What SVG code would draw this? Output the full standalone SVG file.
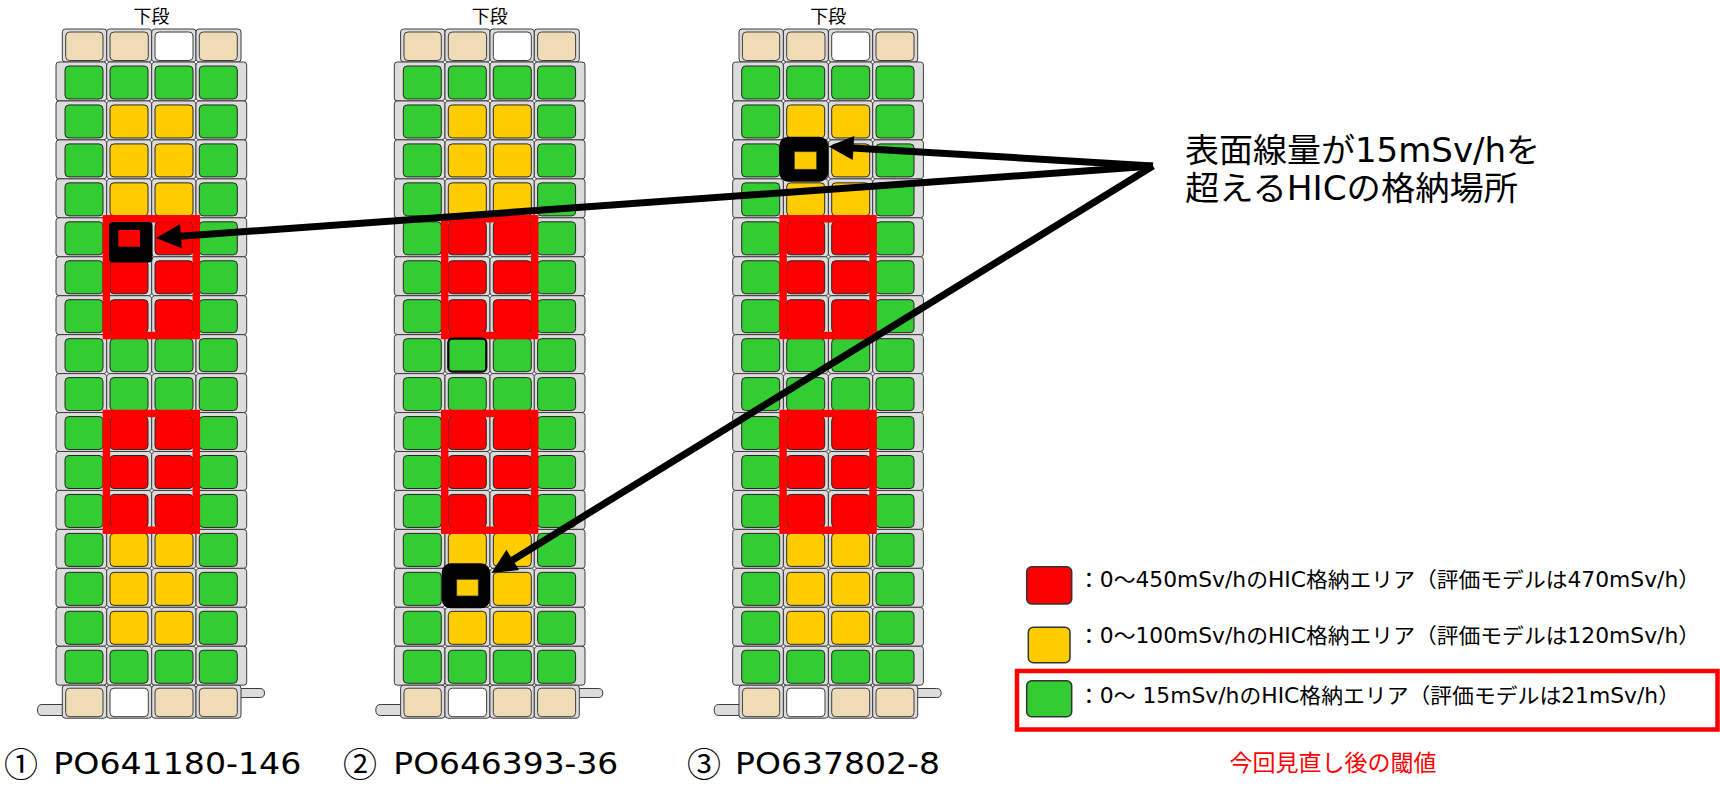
<svg xmlns="http://www.w3.org/2000/svg" xmlns:xlink="http://www.w3.org/1999/xlink" width="1720" height="786" viewBox="0 0 1720 786">
<defs>
<style>
.fr{fill:#dcdcdc;stroke:#3c3c3c;stroke-width:1}
.dot{fill:#ffffff;stroke:#555555;stroke-width:0.7}
.g{fill:#33cc33;stroke:#262626;stroke-width:1}
.y{fill:#ffcc00;stroke:#262626;stroke-width:1}
.r{fill:#ff0000;stroke:#262626;stroke-width:1}
.b{fill:#efdcb7;stroke:#3c3c3c;stroke-width:1}
.w{fill:#ffffff;stroke:#3c3c3c;stroke-width:1}
.rf{fill:none;stroke:#ff0000;stroke-width:7.5}
.ar{stroke:#000000;stroke-width:7;fill:none;marker-end:url(#ah)}
.hl{fill:#000000}
.jp{font-family:"DejaVu Sans","Noto Sans CJK JP",sans-serif;fill:#000000}
.cjk{font-family:"Noto Sans CJK JP",sans-serif;fill:#000000}
</style>
<marker id="ah" markerUnits="userSpaceOnUse" markerWidth="27" markerHeight="26" refX="1" refY="13" orient="auto" overflow="visible">
<path d="M0,1 L25,13 L0,25 Z" fill="#000000"/>
</marker>
<g id="frames">
<rect class="fr" x="56" y="0" width="50.7" height="38.95" rx="3"/>
<rect class="fr" x="106.7" y="0" width="45" height="38.95" rx="3"/>
<rect class="fr" x="151.7" y="0" width="44.3" height="38.95" rx="3"/>
<rect class="fr" x="196" y="0" width="50.7" height="38.95" rx="3"/>
<circle class="dot" cx="106.7" cy="0" r="1.6"/>
<circle class="dot" cx="151.7" cy="0" r="1.6"/>
<circle class="dot" cx="196" cy="0" r="1.6"/>
</g>
<g id="rowG">
<use href="#frames"/>
<rect class="g" x="65" y="4" width="38" height="33" rx="4"/>
<rect class="g" x="110" y="4" width="38" height="33" rx="4"/>
<rect class="g" x="155" y="4" width="38" height="33" rx="4"/>
<rect class="g" x="199.3" y="4" width="38" height="33" rx="4"/>
</g>
<g id="rowY">
<use href="#frames"/>
<rect class="g" x="65" y="4" width="38" height="33" rx="4"/>
<rect class="y" x="110" y="4" width="38" height="33" rx="4"/>
<rect class="y" x="155" y="4" width="38" height="33" rx="4"/>
<rect class="g" x="199.3" y="4" width="38" height="33" rx="4"/>
</g>
<g id="rowR">
<use href="#frames"/>
<rect class="g" x="65" y="4" width="38" height="33" rx="4"/>
<rect class="r" x="110" y="4" width="38" height="33" rx="4"/>
<rect class="r" x="155" y="4" width="38" height="33" rx="4"/>
<rect class="g" x="199.3" y="4" width="38" height="33" rx="4"/>
</g>
<g id="endFrames">
<rect class="fr" x="62.3" y="0" width="44.4" height="33" rx="3"/>
<rect class="fr" x="106.7" y="0" width="45" height="33" rx="3"/>
<rect class="fr" x="151.7" y="0" width="44.3" height="33" rx="3"/>
<rect class="fr" x="196" y="0" width="45" height="33" rx="3"/>
</g>
<g id="tray">
<path class="fr" d="M64,704.5 H42 Q37.5,704.5 37.5,710 Q37.5,715.5 42,715.5 H64 Z"/>
<path class="fr" d="M239,688.5 H260 Q264.5,688.5 264.5,693 Q264.5,697.5 260,697.5 H239 Z"/>
<g transform="translate(0,29)">
<use href="#endFrames"/>
<rect class="b" x="65.7" y="3" width="37.3" height="28.5" rx="4"/>
<rect class="b" x="110" y="3" width="38.3" height="28.5" rx="4"/>
<rect class="w" x="155" y="3" width="38" height="28.5" rx="4"/>
<rect class="b" x="199.3" y="3" width="38" height="28.5" rx="4"/>
</g>
<use href="#rowG" y="62"/>
<use href="#rowY" y="100.95"/>
<use href="#rowY" y="139.9"/>
<use href="#rowY" y="178.85"/>
<use href="#rowR" y="217.8"/>
<use href="#rowR" y="256.75"/>
<use href="#rowR" y="295.7"/>
<use href="#rowG" y="334.65"/>
<use href="#rowG" y="373.6"/>
<use href="#rowR" y="412.55"/>
<use href="#rowR" y="451.5"/>
<use href="#rowR" y="490.45"/>
<use href="#rowY" y="529.4"/>
<use href="#rowY" y="568.35"/>
<use href="#rowY" y="607.3"/>
<use href="#rowG" y="646.25"/>
<g transform="translate(0,685.2)">
<use href="#endFrames"/>
<rect class="b" x="65.7" y="3" width="37.3" height="28.5" rx="4"/>
<rect class="w" x="110" y="3" width="38.3" height="28.5" rx="4"/>
<rect class="b" x="155" y="3" width="38" height="28.5" rx="4"/>
<rect class="b" x="199.3" y="3" width="38" height="28.5" rx="4"/>
</g>
<rect class="rf" x="106.4" y="218.8" width="89.9" height="116.7"/>
<rect class="rf" x="106.4" y="413.5" width="89.9" height="116.7"/>
</g>
</defs>
<rect x="0" y="0" width="1720" height="786" fill="#ffffff"/>

<g id="tray1">
<text class="cjk" x="151.5" y="23" font-size="18" text-anchor="middle">下段</text>
<use href="#tray"/>
<rect class="hl" x="109" y="222" width="43.5" height="40.5" rx="4"/>
<rect x="118.3" y="230" width="21.7" height="16.7" fill="#ff0000"/>
<text class="cjk" x="4" y="777" font-size="34">①</text>
<text class="jp" x="53.3" y="774" font-size="31" textLength="248" lengthAdjust="spacingAndGlyphs">PO641180-146</text>
</g>

<g id="tray2">
<text class="cjk" x="489.8" y="23" font-size="18" text-anchor="middle">下段</text>
<use href="#tray" x="338.3"/>
<rect x="448.3" y="338.65" width="38" height="33" rx="4" fill="#33cc33" stroke="#000000" stroke-width="2.2"/>
<rect class="hl" x="441.7" y="563.3" width="48.3" height="45" rx="9"/>
<rect x="456.7" y="579.3" width="21.6" height="16.7" fill="#ffcc00" stroke="#333333" stroke-width="0.8"/>
<text class="cjk" x="343" y="777" font-size="34">②</text>
<text class="jp" x="393.3" y="774" font-size="31" textLength="225" lengthAdjust="spacingAndGlyphs">PO646393-36</text>
</g>

<g id="tray3">
<text class="cjk" x="828.2" y="23" font-size="18" text-anchor="middle">下段</text>
<use href="#tray" x="676.7"/>
<rect class="hl" x="779.3" y="136.7" width="49" height="45" rx="9"/>
<rect x="794.3" y="151.7" width="22.4" height="17.6" fill="#ffcc00" stroke="#333333" stroke-width="0.8"/>
<text class="cjk" x="687" y="777" font-size="34">③</text>
<text class="jp" x="735" y="774" font-size="31" textLength="205" lengthAdjust="spacingAndGlyphs">PO637802-8</text>
</g>

<g id="callout">
<text class="jp" x="1185" y="161.5" font-size="33" textLength="355" lengthAdjust="spacingAndGlyphs">表面線量が15mSv/hを</text>
<text class="jp" x="1185" y="199.5" font-size="33" textLength="333" lengthAdjust="spacingAndGlyphs">超えるHICの格納場所</text>
</g>

<g id="legend">
<rect x="1026.7" y="566.7" width="45" height="37.3" rx="5" fill="#ff0000" stroke="#333333" stroke-width="1.5"/>
<text class="jp" x="1078" y="587" font-size="21" textLength="622" lengthAdjust="spacingAndGlyphs">：0～450mSv/hのHIC格納エリア（評価モデルは470mSv/h）</text>
<rect x="1028.3" y="627.3" width="41.7" height="35.4" rx="5" fill="#ffcc00" stroke="#333333" stroke-width="1.5"/>
<text class="jp" x="1078" y="643.3" font-size="21" textLength="622" lengthAdjust="spacingAndGlyphs">：0～100mSv/hのHIC格納エリア（評価モデルは120mSv/h）</text>
<rect x="1026.7" y="680.7" width="45" height="36" rx="5" fill="#33cc33" stroke="#333333" stroke-width="1.5"/>
<text class="jp" x="1078" y="703.3" font-size="21" textLength="602" lengthAdjust="spacingAndGlyphs">：0～ 15mSv/hのHIC格納エリア（評価モデルは21mSv/h）</text>
<rect x="1017" y="671" width="700.5" height="58.5" fill="none" stroke="#ff0000" stroke-width="4.5"/>
<text x="1333" y="771" font-size="23" text-anchor="middle" fill="#ff0000" font-family="Noto Sans CJK JP, sans-serif">今回見直し後の閾値</text>
</g>

<g id="connectors">
<line class="ar" x1="1153" y1="166" x2="179.9" y2="236.3"/>
<line class="ar" x1="1153" y1="166" x2="852.5" y2="147.9"/>
<line class="ar" x1="1153" y1="166" x2="511.9" y2="560.4"/>
</g>
</svg>
